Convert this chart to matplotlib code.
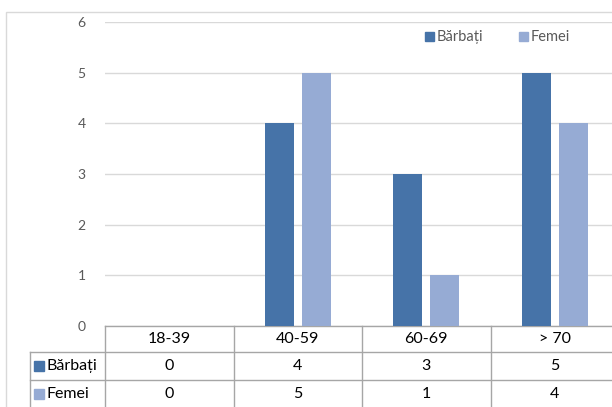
import matplotlib
matplotlib.use("Agg")
from matplotlib import pyplot as plt
from matplotlib.patches import Rectangle
from matplotlib.transforms import blended_transform_factory
import numpy as np

categories = ["18-39", "40-59", "60-69", "> 70"]
barbati = [0, 4, 3, 5]
femei = [0, 5, 1, 4]
series_names = ["Bărbați", "Femei"]

c_barbati = "#4673A8"
c_femei = "#96ABD4"
grid_c = "#D9D9D9"
table_c = "#A6A6A6"
W, H = 612, 407

plt.rcParams['font.family'] = ['Lato', 'DejaVu Sans']

fig = plt.figure(figsize=(W / 100, H / 100), dpi=100)

def px_box(x0, y0, w, h, color):
    # square marker given in pixels from the top-left corner
    fig.patches.append(Rectangle((x0 / W, 1 - (y0 + h) / H), w / W, h / H,
                                 transform=fig.transFigure, color=color))

# outer chart frame (cut off at right and bottom like the screenshot)
fig.patches.append(Rectangle((6 / W, -0.1), 1.2, 1 - 12 / H + 0.1,
                             transform=fig.transFigure, fill=False,
                             edgecolor="#D9D9D9", linewidth=1.0))

# plot area in pixels: x 105..619, y 22..326
left, right, top, bottom = 105, 619, 22, 326
ax = fig.add_axes([left / W, (H - bottom) / H, (right - left) / W, (bottom - top) / H])

x = np.arange(len(categories))
off, bw = 0.145, 0.225
ax.bar(x - off, barbati, bw, color=c_barbati, zorder=3)
ax.bar(x + off, femei, bw, color=c_femei, zorder=3)

ax.set_xlim(-0.5, len(categories) - 0.5)
ax.set_ylim(0, 6)
ax.set_yticks(range(7))
ax.yaxis.grid(True, color=grid_c, linewidth=1.0, zorder=0)
ax.set_xticks([])
for s in ax.spines.values():
    s.set_visible(False)
ax.tick_params(axis='y', length=0, pad=14, labelsize=10, labelcolor="#595959")

# legend at the top right
px_box(425, 32, 9, 9, c_barbati)
fig.text(437 / W, 1 - 37 / H, series_names[0], color="#595959", fontsize=10.5,
         va="center", ha="left")
px_box(519, 32, 9, 9, c_femei)
fig.text(531 / W, 1 - 37 / H, series_names[1], color="#595959", fontsize=10.5,
         va="center", ha="left")

# data table under the axis
tr = blended_transform_factory(ax.transData, ax.transAxes)
ph = bottom - top
def fy(py):
    return (bottom - py) / ph

row_lines = [326, 352, 380]
row_text = [339, 366, 394]
xl = -0.5 - (left - 30) / ((right - left) / len(categories))

ax.plot([-0.5, 3.6], [fy(326)] * 2, transform=tr, color=table_c, lw=1, clip_on=False)
for py in row_lines[1:]:
    ax.plot([xl, 3.6], [fy(py)] * 2, transform=tr, color=table_c, lw=1, clip_on=False)
for bx in np.arange(-0.5, len(categories), 1.0):
    ax.plot([bx, bx], [fy(326), fy(420)], transform=tr, color=table_c, lw=1, clip_on=False)
ax.plot([xl, xl], [fy(352), fy(420)], transform=tr, color=table_c, lw=1, clip_on=False)

fs = 11.5
for i, cat in enumerate(categories):
    ax.text(i, fy(row_text[0]), cat, transform=tr, ha="center", va="center",
            fontsize=fs, color="black")
    ax.text(i, fy(row_text[1]), str(barbati[i]), transform=tr, ha="center",
            va="center", fontsize=fs, color="black")
    ax.text(i, fy(row_text[2]), str(femei[i]), transform=tr, ha="center",
            va="center", fontsize=fs, color="black")

for name, col, py in zip(series_names, [c_barbati, c_femei], row_text[1:]):
    px_box(34, py - 5, 10, 10, col)
    fig.text(46 / W, 1 - py / H, name, ha="left", va="center",
             fontsize=fs, color="black")

fig.savefig("out.png", dpi=100)
